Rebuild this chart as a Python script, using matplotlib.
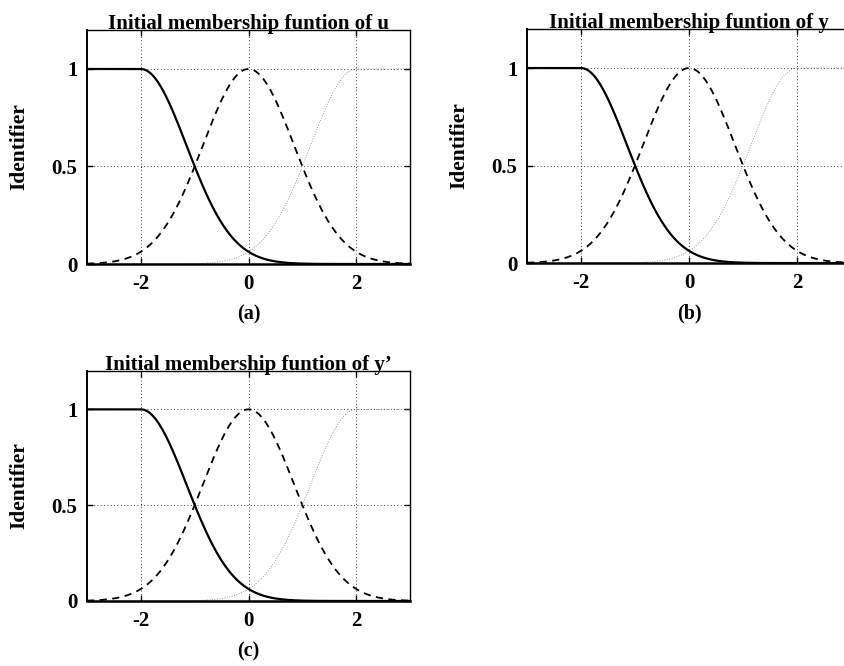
import numpy as np
import matplotlib.pyplot as plt

# Gaussian membership functions: centres and common width
centers = [-2.0, 0.0, 2.0]
sigma = 0.85
titles = ["Initial membership funtion of u",
          "Initial membership funtion of y",
          "Initial membership funtion of y\u2019"]
captions = ["(a)", "(b)", "(c)"]
xticks = [-2, 0, 2]
yticks = [0, 0.5, 1]
ytick_labels = ["0", "0.5", "1"]

plt.rcParams['font.family'] = ['Liberation Serif', 'DejaVu Serif']
plt.rcParams['axes.unicode_minus'] = False


def gauss(x, c, s):
    return np.exp(-0.5 * ((x - c) / s) ** 2)


x = np.linspace(-3, 3, 601)
left_mf = np.where(x <= centers[0], 1.0, gauss(x, centers[0], sigma))
mid_mf = gauss(x, centers[1], sigma)
right_mf = np.where(x >= centers[2], 1.0, gauss(x, centers[2], sigma))

fig = plt.figure(figsize=(8.44, 6.66), dpi=100)
positions = [
    [0.1031, 0.6036, 0.3827, 0.3514],
    [0.6244, 0.6050, 0.3839, 0.3514],
    [0.1031, 0.0976, 0.3827, 0.3453],
]

for pos, title, cap in zip(positions, titles, captions):
    ax = fig.add_axes(pos)
    ax.plot(x, left_mf, color='black', lw=1.6, solid_capstyle='butt')
    ax.plot(x, mid_mf, color='black', lw=1.3, dashes=(4, 3))
    ax.plot(x, right_mf, color='#777777', lw=0.6, linestyle=(0, (1, 2)))
    ax.set_xlim(-3, 3)
    ax.set_ylim(0, 1.2)
    ax.set_xticks(xticks)
    ax.set_yticks(yticks)
    ax.set_yticklabels(ytick_labels)
    ax.grid(True, color='black', linestyle=(0, (1, 3)), lw=0.6)
    ax.tick_params(direction='in', top=True, right=True, length=4, width=1,
                   labelsize=15, pad=7)
    for lab in ax.get_xticklabels() + ax.get_yticklabels():
        lab.set_fontweight('bold')
    for sp in ax.spines.values():
        sp.set_linewidth(1.0)
    ax.spines['bottom'].set_linewidth(1.8)
    ax.spines['left'].set_linewidth(1.4)
    ax.set_title(title, fontsize=15, fontweight='bold', pad=1)
    ax.set_ylabel('Identifier', fontsize=15.5, fontweight='bold', labelpad=16)
    ax.set_xlabel(cap, fontsize=14.5, fontweight='bold', labelpad=8)

fig.savefig('out.png', dpi=100)
